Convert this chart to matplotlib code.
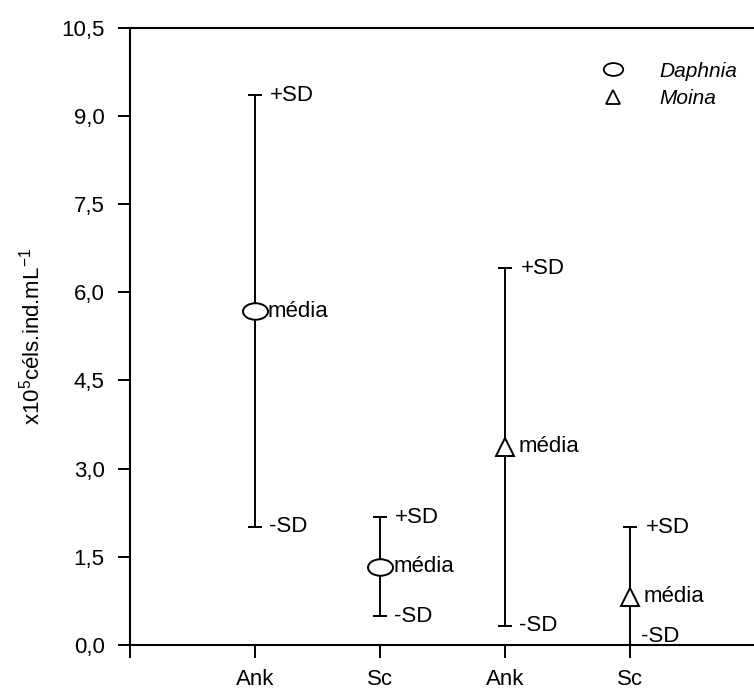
import matplotlib
matplotlib.use("Agg")
import matplotlib.pyplot as plt
from matplotlib.lines import Line2D
from matplotlib.path import Path
from matplotlib.transforms import Affine2D

plt.rcParams['font.family'] = ['Liberation Sans', 'DejaVu Sans']
plt.rcParams['mathtext.fontset'] = 'custom'
plt.rcParams['mathtext.rm'] = 'Liberation Sans'

# data
categories = ['', 'Ank', 'Sc', 'Ank', 'Sc']
tick_x = [0, 1, 2, 3, 4]
daphnia_x = [1, 2]
daphnia_mean = [5.68, 1.33]
daphnia_sd = [3.67, 0.84]
moina_x = [3, 4]
moina_mean = [3.37, 0.82]
moina_sd = [3.04, 1.18]

ytick_values = [0.0, 1.5, 3.0, 4.5, 6.0, 7.5, 9.0, 10.5]
ytick_labels = ['0,0', '1,5', '3,0', '4,5', '6,0', '7,5', '9,0', '10,5']

# slightly squashed ellipse used for Daphnia
ellipse = Path.unit_circle().transformed(Affine2D().scale(1.0, 0.66))

fig = plt.figure(figsize=(7.54, 6.96), dpi=100)
ax = fig.add_axes([0.172, 0.0733, 0.830, 0.887])

ekw = dict(ls='none', color='black', ecolor='black', elinewidth=1.4,
           capsize=5, capthick=1.4, mfc='white', mec='black', mew=1.4)
ax.errorbar(daphnia_x, daphnia_mean, yerr=daphnia_sd, marker=ellipse,
            ms=18, **ekw)
ax.errorbar(moina_x, moina_mean, yerr=moina_sd, marker='^', ms=12.5, **ekw)

# +SD / média / -SD labels next to each bar
all_x = daphnia_x + moina_x
all_mean = daphnia_mean + moina_mean
all_sd = daphnia_sd + moina_sd
for x, m, s in zip(all_x, all_mean, all_sd):
    akw = dict(textcoords='offset points', va='center', ha='left', fontsize=16)
    ax.annotate('+SD', (x, m + s), xytext=(11, 0), **akw)
    ax.annotate('média', (x, m), xytext=(9.5, 0), **akw)
    low = m - s
    if low > 0:
        ax.annotate('-SD', (x, low), xytext=(10, 0), **akw)
    else:
        ax.annotate('-SD', (x, 0), xytext=(8, 6), **akw)

ax.set_xlim(0, 5)
ax.set_ylim(0, 10.5)
ax.set_xticks(tick_x)
ax.set_xticklabels(categories)
ax.set_yticks(ytick_values)
ax.set_yticklabels(ytick_labels)
ax.tick_params(axis='both', direction='out', length=9, width=1.4,
               labelsize=16)
ax.tick_params(axis='y', pad=9)
ax.tick_params(axis='x', pad=8)
for side in ['left', 'bottom', 'top']:
    ax.spines[side].set_linewidth(1.5)
ax.spines['right'].set_visible(False)

ax.set_ylabel(r'x10$^5$céls.ind.mL$^{-1}$', fontsize=16, labelpad=12)

handles = [
    Line2D([], [], ls='none', marker=ellipse, ms=14, mfc='white',
           mec='black', mew=1.3),
    Line2D([], [], ls='none', marker='^', ms=10, mfc='white',
           mec='black', mew=1.3),
]
leg = ax.legend(handles, ['Daphnia', 'Moina'], loc='upper left',
                bbox_to_anchor=(0.756, 0.945), frameon=False, fontsize=15,
                handlelength=1.0, handletextpad=1.7, labelspacing=0.4,
                borderpad=0, borderaxespad=0)
for t in leg.get_texts():
    t.set_style('italic')

fig.savefig('out.png', dpi=100)
